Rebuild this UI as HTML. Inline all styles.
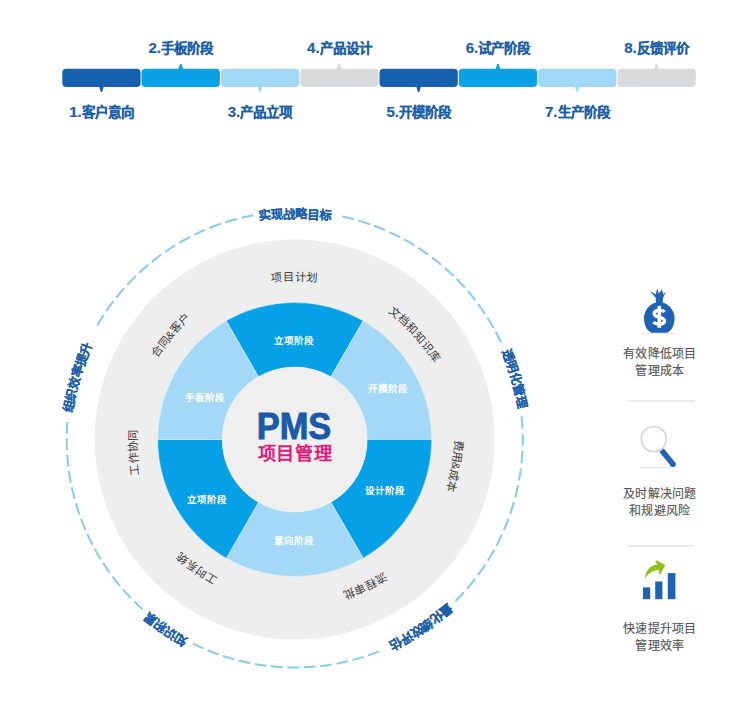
<!DOCTYPE html>
<html lang="zh-CN">
<head>
<meta charset="utf-8">
<style>
html,body{margin:0;padding:0;background:#fff;}
body{width:750px;height:714px;overflow:hidden;position:relative;font-family:"Liberation Sans",sans-serif;}
svg{position:absolute;left:0;top:0;}
text{font-family:"Liberation Sans",sans-serif;}
.lbl{font-size:13.5px;font-weight:bold;fill:#1b5ea9;stroke:#1b5ea9;stroke-width:0.2px;}
.seg{font-size:9.5px;font-weight:bold;fill:#fff;}
.ring{font-size:11.2px;fill:#3a3a3a;letter-spacing:1px;}
.dl{font-size:12.4px;font-weight:bold;fill:#1b5ea9;stroke:#1b5ea9;stroke-width:0.1px;}
.dg{font-size:15px;}
.side{font-size:12px;fill:#555;stroke:#555;stroke-width:0.15px;letter-spacing:0.3px;}
.pms{font-size:36px;font-weight:bold;fill:#1b5aa8;stroke:#1b5aa8;stroke-width:0.9px;}
.pmscn{font-size:18.1px;font-weight:bold;fill:#e2197a;letter-spacing:0.6px;}
</style>
</head>
<body>
<svg width="750" height="714" viewBox="0 0 750 714">
  <g><rect x="62.30" y="68.8" width="78.30" height="18.2" rx="4" fill="#1662b0"/><path d="M99.05 86.5L100.75 92L102.15 92L103.85 86.5Z" fill="#1662b0"/><rect x="141.60" y="68.8" width="78.30" height="18.2" rx="4" fill="#0aa1e6"/><path d="M178.35 69.3L180.05 64L181.45 64L183.15 69.3Z" fill="#0aa1e6"/><rect x="220.90" y="68.8" width="78.30" height="18.2" rx="4" fill="#a1d8f5"/><path d="M257.65 86.5L259.35 92L260.75 92L262.45 86.5Z" fill="#a1d8f5"/><rect x="300.20" y="68.8" width="78.30" height="18.2" rx="4" fill="#d9dadb"/><path d="M336.95 69.3L338.65 64L340.05 64L341.75 69.3Z" fill="#d9dadb"/><rect x="379.50" y="68.8" width="78.30" height="18.2" rx="4" fill="#1662b0"/><path d="M416.25 86.5L417.95 92L419.35 92L421.05 86.5Z" fill="#1662b0"/><rect x="458.80" y="68.8" width="78.30" height="18.2" rx="4" fill="#0aa1e6"/><path d="M495.55 69.3L497.25 64L498.65 64L500.35 69.3Z" fill="#0aa1e6"/><rect x="538.10" y="68.8" width="78.30" height="18.2" rx="4" fill="#a1d8f5"/><path d="M574.85 86.5L576.55 92L577.95 92L579.65 86.5Z" fill="#a1d8f5"/><rect x="617.40" y="68.8" width="78.30" height="18.2" rx="4" fill="#d9dadb"/><path d="M654.15 69.3L655.85 64L657.25 64L658.95 69.3Z" fill="#d9dadb"/></g>
  <g class="lbl" text-anchor="middle"><text x="101.45" y="117.1"><tspan class="dg">1.</tspan>客户意向</text><text x="180.75" y="52.5"><tspan class="dg">2.</tspan>手板阶段</text><text x="260.05" y="117.1"><tspan class="dg">3.</tspan>产品立项</text><text x="339.35" y="52.5"><tspan class="dg">4.</tspan>产品设计</text><text x="418.65" y="117.1"><tspan class="dg">5.</tspan>开模阶段</text><text x="497.95" y="52.5"><tspan class="dg">6.</tspan>试产阶段</text><text x="577.25" y="117.1"><tspan class="dg">7.</tspan>生产阶段</text><text x="656.55" y="52.5"><tspan class="dg">8.</tspan>反馈评价</text></g>
  
  <g transform="translate(294.7 439.5)">
    <defs><path id="rp0" d="M-253.26 94.97A253.26 253.26 0 0 1 253.26 94.97"/><path id="rp1" d="M-238.57 -119.81A253.10 253.10 0 0 1 103.41 253.40"/><path id="rp2" d="M-54.63 -265.68A254.70 254.70 0 0 1 -134.31 237.45"/><path id="rp3" d="M188.77 -195.86A254.70 254.70 0 0 1 -271.01 23.44"/><path id="rp4" d="M257.98 66.97A253.90 253.90 0 0 1 -155.43 -227.91"/><path id="rp5" d="M108.30 251.92A253.10 253.10 0 0 1 81.81 -253.59"/><path id="rp6" d="M-90.44 256.18A254.38 254.38 0 0 1 236.59 -133.55"/><path id="dp0" d="M-353.64 132.62A353.64 353.64 0 0 1 353.64 132.62"/><path id="dp1" d="M-226.02 -310.45A359.56 359.56 0 0 1 -33.84 382.52"/><path id="dp2" d="M221.01 -310.48A356.84 356.84 0 0 1 -370.66 88.61"/><path id="dp3" d="M374.34 90.87A360.68 360.68 0 0 1 -222.29 -314.60"/><path id="dp4" d="M30.94 379.85A356.84 356.84 0 0 1 226.46 -306.53"/></defs>
    <circle r="200" fill="#eeeeee"/>
    <path d="M47.79 -222.93A228 228 0 0 1 206.30 -97.08" fill="none" stroke="#86cbf0" stroke-width="2" stroke-dasharray="11.85 4.64"/><path d="M226.83 -23.04A228 228 0 0 1 160.66 161.78" fill="none" stroke="#86cbf0" stroke-width="2" stroke-dasharray="12.43 4.87"/><path d="M84.30 211.84A228 228 0 0 1 -101.73 204.05" fill="none" stroke="#86cbf0" stroke-width="2" stroke-dasharray="11.77 4.61"/><path d="M-151.97 169.97A228 228 0 0 1 -227.33 -17.49" fill="none" stroke="#86cbf0" stroke-width="2" stroke-dasharray="11.83 4.63"/><path d="M-197.25 -114.34A228 228 0 0 1 -41.55 -224.18" fill="none" stroke="#86cbf0" stroke-width="2" stroke-dasharray="12.05 4.72"/>
    <g class="dl" text-anchor="middle"><text><textPath href="#dp0" startOffset="50%">实现战略目标</textPath></text><text><textPath href="#dp1" startOffset="50%">透明化管理</textPath></text><text><textPath href="#dp2" startOffset="50%">量化绩效评估</textPath></text><text><textPath href="#dp3" startOffset="50%">知识积累</textPath></text><text><textPath href="#dp4" startOffset="50%">组织效率提升</textPath></text></g>
    <g class="ring" text-anchor="middle"><text style="letter-spacing:0.8px"><textPath href="#rp0" startOffset="50%">项目计划</textPath></text><text style="letter-spacing:0.7px"><textPath href="#rp1" startOffset="50%">文档和知识库</textPath></text><text style="letter-spacing:0px"><textPath href="#rp2" startOffset="50%">费用&amp;成本</textPath></text><text style="letter-spacing:0.6px"><textPath href="#rp3" startOffset="50%">流程审批</textPath></text><text style="letter-spacing:0.5px"><textPath href="#rp4" startOffset="50%">工时系统</textPath></text><text style="letter-spacing:0.4px"><textPath href="#rp5" startOffset="50%">工作协同</textPath></text><text style="letter-spacing:0.3px"><textPath href="#rp6" startOffset="50%">合同&amp;客户</textPath></text></g>
    <path d="M-68.50 -118.65A137 137 0 0 1 68.50 -118.65L36.25 -62.79A72.5 72.5 0 0 0 -36.25 -62.79Z" fill="#05a0e6" stroke="#fff" stroke-opacity="0.45" stroke-width="0.8"/><path d="M68.50 -118.65A137 137 0 0 1 137.00 -0.00L72.50 -0.00A72.5 72.5 0 0 0 36.25 -62.79Z" fill="#a3d8f6" stroke="#fff" stroke-opacity="0.45" stroke-width="0.8"/><path d="M137.00 -0.00A137 137 0 0 1 68.50 118.65L36.25 62.79A72.5 72.5 0 0 0 72.50 -0.00Z" fill="#05a0e6" stroke="#fff" stroke-opacity="0.45" stroke-width="0.8"/><path d="M68.50 118.65A137 137 0 0 1 -68.50 118.65L-36.25 62.79A72.5 72.5 0 0 0 36.25 62.79Z" fill="#a3d8f6" stroke="#fff" stroke-opacity="0.45" stroke-width="0.8"/><path d="M-68.50 118.65A137 137 0 0 1 -137.00 0.00L-72.50 0.00A72.5 72.5 0 0 0 -36.25 62.79Z" fill="#05a0e6" stroke="#fff" stroke-opacity="0.45" stroke-width="0.8"/><path d="M-137.00 0.00A137 137 0 0 1 -68.50 -118.65L-36.25 -62.79A72.5 72.5 0 0 0 -72.50 0.00Z" fill="#a3d8f6" stroke="#fff" stroke-opacity="0.45" stroke-width="0.8"/>
    <circle r="72.5" fill="#efefef"/>
    <g class="seg" text-anchor="middle"><text x="-0.8" y="-95.5">立项阶段</text><text x="93.0" y="-47.3">开模阶段</text><text x="90.3" y="54.7">设计阶段</text><text x="-0.3" y="104.1">意向阶段</text><text x="-87.3" y="63.8">立项阶段</text><text x="-90.0" y="-38.3">手板阶段</text></g>
    <text class="pms" transform="translate(-0.7 -1) scale(0.955 1.03)" x="0" y="0" text-anchor="middle">PMS</text>
    <text class="pmscn" x="0.3" y="20.8" text-anchor="middle">项目管理</text>
  </g>

  
  <path fill="#1f63b4" d="M656 302.6 C651.5 303.5 644 309.5 644 317.8 C644 325.5 647 330.8 651.5 332.7 L667.1 332.7 C671.6 330.8 674.6 325.5 674.6 317.8 C674.6 309.5 667.1 303.5 662.6 302.6 L663.2 297.5 L666.2 291.3 L663.4 294.4 L661.9 289.5 L658.8 293.6 L657.2 288.3 L655.8 294.4 L649.9 290.9 L655.6 297.5 Z"/>
  <path fill="none" stroke="#fff" stroke-width="3.4" d="M664.6 311.9 C663.4 310.7 661.7 310.4 659.3 310.4 C656.3 310.4 654.2 311.7 654.2 313.7 C654.2 315.9 656.3 316.6 659.3 317.2 C662.4 317.9 664.5 318.9 664.5 321.1 C664.5 323.2 662.4 324.1 659.3 324.1 C656.6 324.1 654.6 323.3 653.5 322"/>
  <rect x="657.5" y="305.9" width="3.6" height="21.9" fill="#fff"/>
  <line x1="642" y1="333.6" x2="676" y2="333.6" stroke="#e6e6e6" stroke-width="1"/>
  <!-- magnifier -->
  <circle cx="653.8" cy="439" r="12.5" fill="none" stroke="#d6d6d6" stroke-width="1.6"/>
  <path d="M661.6 450.3 L673 464.3" stroke="#1f63b4" stroke-width="5.6" stroke-linecap="butt"/><circle cx="673" cy="464.3" r="2.8" fill="#1f63b4"/>
  <rect x="640" y="467" width="30" height="1.2" fill="#e3e3e3"/>
  <!-- chart -->
  <rect x="643" y="587.4" width="7.2" height="11.8" fill="#1f63b4"/>
  <rect x="655.2" y="581.5" width="7.2" height="17.7" fill="#1f63b4"/>
  <rect x="667.8" y="573.1" width="7.6" height="26.1" fill="#1f63b4"/>
  <path d="M645 579 C645.5 570 650 565.5 657 564.5 L655.6 560 L665.3 565.1 L659.8 575.6 L658.6 570 C652 570.5 648 573.5 645 579 Z" fill="#8dc21f"/>
  <line x1="626.7" y1="401" x2="694.7" y2="401" stroke="#dcdcdc" stroke-width="1.2"/>
  <line x1="626.7" y1="546" x2="694.7" y2="546" stroke="#dcdcdc" stroke-width="1.2"/>
  <g class="side" text-anchor="middle">
    <text x="659.9" y="357.8">有效降低项目</text>
    <text x="659.9" y="375">管理成本</text>
    <text x="659.9" y="497.8">及时解决问题</text>
    <text x="659.9" y="515">和规避风险</text>
    <text x="659.9" y="632.5">快速提升项目</text>
    <text x="659.9" y="649.8">管理效率</text>
  </g>

</svg>
</body>
</html>
